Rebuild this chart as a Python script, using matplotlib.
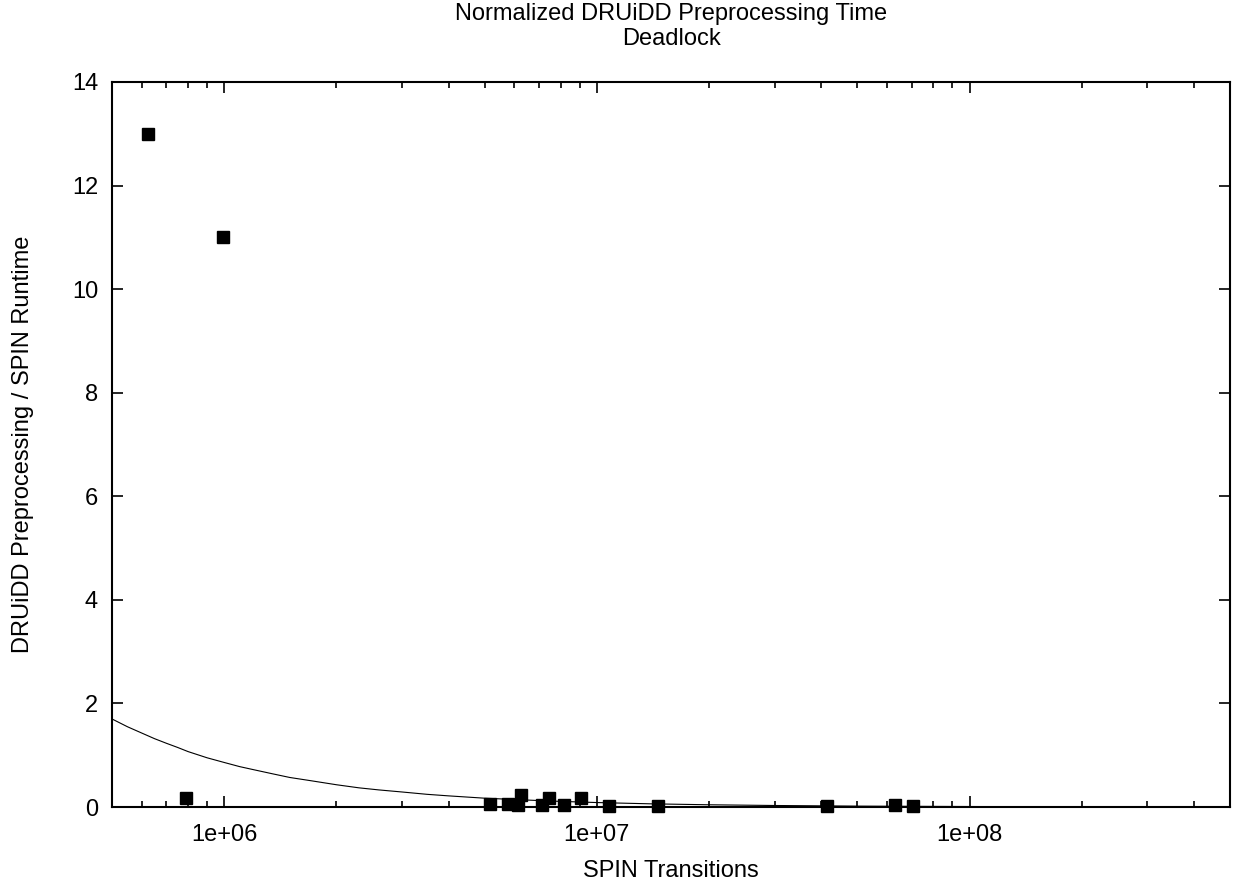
import matplotlib
matplotlib.use("Agg")
import matplotlib.pyplot as plt
from matplotlib.ticker import LogLocator, FixedLocator, NullFormatter, FixedFormatter

# ---- data ----
spin_transitions = [6.26e5, 9.9e5, 7.9e5, 5.18e6, 5.77e6, 6.14e6, 6.24e6, 7.11e6,
                    7.46e6, 8.15e6, 9.08e6, 1.075e7, 1.455e7, 4.15e7, 6.30e7, 7.05e7]
ratio = [13.0, 11.0, 0.17, 0.05, 0.05, 0.04, 0.23, 0.04,
         0.17, 0.04, 0.17, 0.02, 0.02, 0.02, 0.04, 0.02]

# fitted curve
fit_x = [5.0e5, 5.5e5, 6.0e5, 6.5e5, 7.0e5, 7.5e5, 8.0e5, 9.0e5, 1.0e6, 1.1e6, 1.2e6,
         1.35e6, 1.5e6, 1.7e6, 2.0e6, 2.3e6, 2.6e6, 3.0e6, 3.5e6, 4.0e6, 5.0e6, 6.0e6,
         7.5e6, 1.0e7, 1.4e7, 2.0e7, 3.0e7, 5.0e7, 1.0e8, 2.0e8, 5.0e8]
fit_y = [1.70, 1.55, 1.43, 1.32, 1.23, 1.15, 1.07, 0.95, 0.86, 0.78, 0.72,
         0.64, 0.57, 0.51, 0.43, 0.37, 0.33, 0.29, 0.245, 0.215, 0.17, 0.145,
         0.115, 0.086, 0.061, 0.043, 0.029, 0.017, 0.009, 0.004, 0.002]

xlim = (5e5, 5e8)
ylim = (0, 14)
yticks = [0, 2, 4, 6, 8, 10, 12, 14]
xticks = [1e6, 1e7, 1e8]
xticklabels = ["1e+06", "1e+07", "1e+08"]

title_lines = "Normalized DRUiDD Preprocessing Time\nDeadlock"
xlabel = "SPIN Transitions"
ylabel = "DRUiDD Preprocessing / SPIN Runtime"

plt.rcParams['font.family'] = ['Liberation Sans', 'DejaVu Sans']
FS = 17

W, H = 1236, 890
fig = plt.figure(figsize=(W / 100, H / 100), dpi=100)
L, R, T, B = 112, 1230, 82, 807
ax = fig.add_axes([L / W, 1 - B / H, (R - L) / W, (B - T) / H])

ax.plot(fit_x, fit_y, color='black', linewidth=0.8, zorder=2)
ax.plot(spin_transitions, ratio, linestyle='none', marker='s', markersize=8.2,
        color='black', zorder=3, clip_on=False)

ax.set_xscale('log')
ax.set_xlim(*xlim)
ax.set_ylim(*ylim)
ax.xaxis.set_major_locator(FixedLocator(xticks))
ax.xaxis.set_major_formatter(FixedFormatter(xticklabels))
ax.xaxis.set_minor_locator(LogLocator(base=10, subs=[2, 3, 4, 5, 6, 7, 8, 9]))
ax.xaxis.set_minor_formatter(NullFormatter())
ax.set_yticks(yticks)
ax.set_yticklabels([str(v) for v in yticks])

ax.tick_params(which='both', direction='in', top=True, right=True,
               labelsize=FS, width=1.2, colors='black')
ax.tick_params(which='major', length=8)
ax.tick_params(which='minor', length=4)
ax.tick_params(axis='x', pad=12)
ax.tick_params(axis='y', pad=10)
for s in ax.spines.values():
    s.set_linewidth(1.5)
    s.set_color('black')

fig.text((L + R) / 2 / W, 1 - 3 / H, title_lines, ha='center', va='top',
         fontsize=FS, linespacing=1.2)
ax.set_xlabel(xlabel, fontsize=FS, labelpad=10)
fig.text(23 / W, 1 - ((T + B) / 2) / H, ylabel, rotation=90, ha='center',
         va='center', fontsize=FS)

fig.savefig('out.png', dpi=100, facecolor='white')
